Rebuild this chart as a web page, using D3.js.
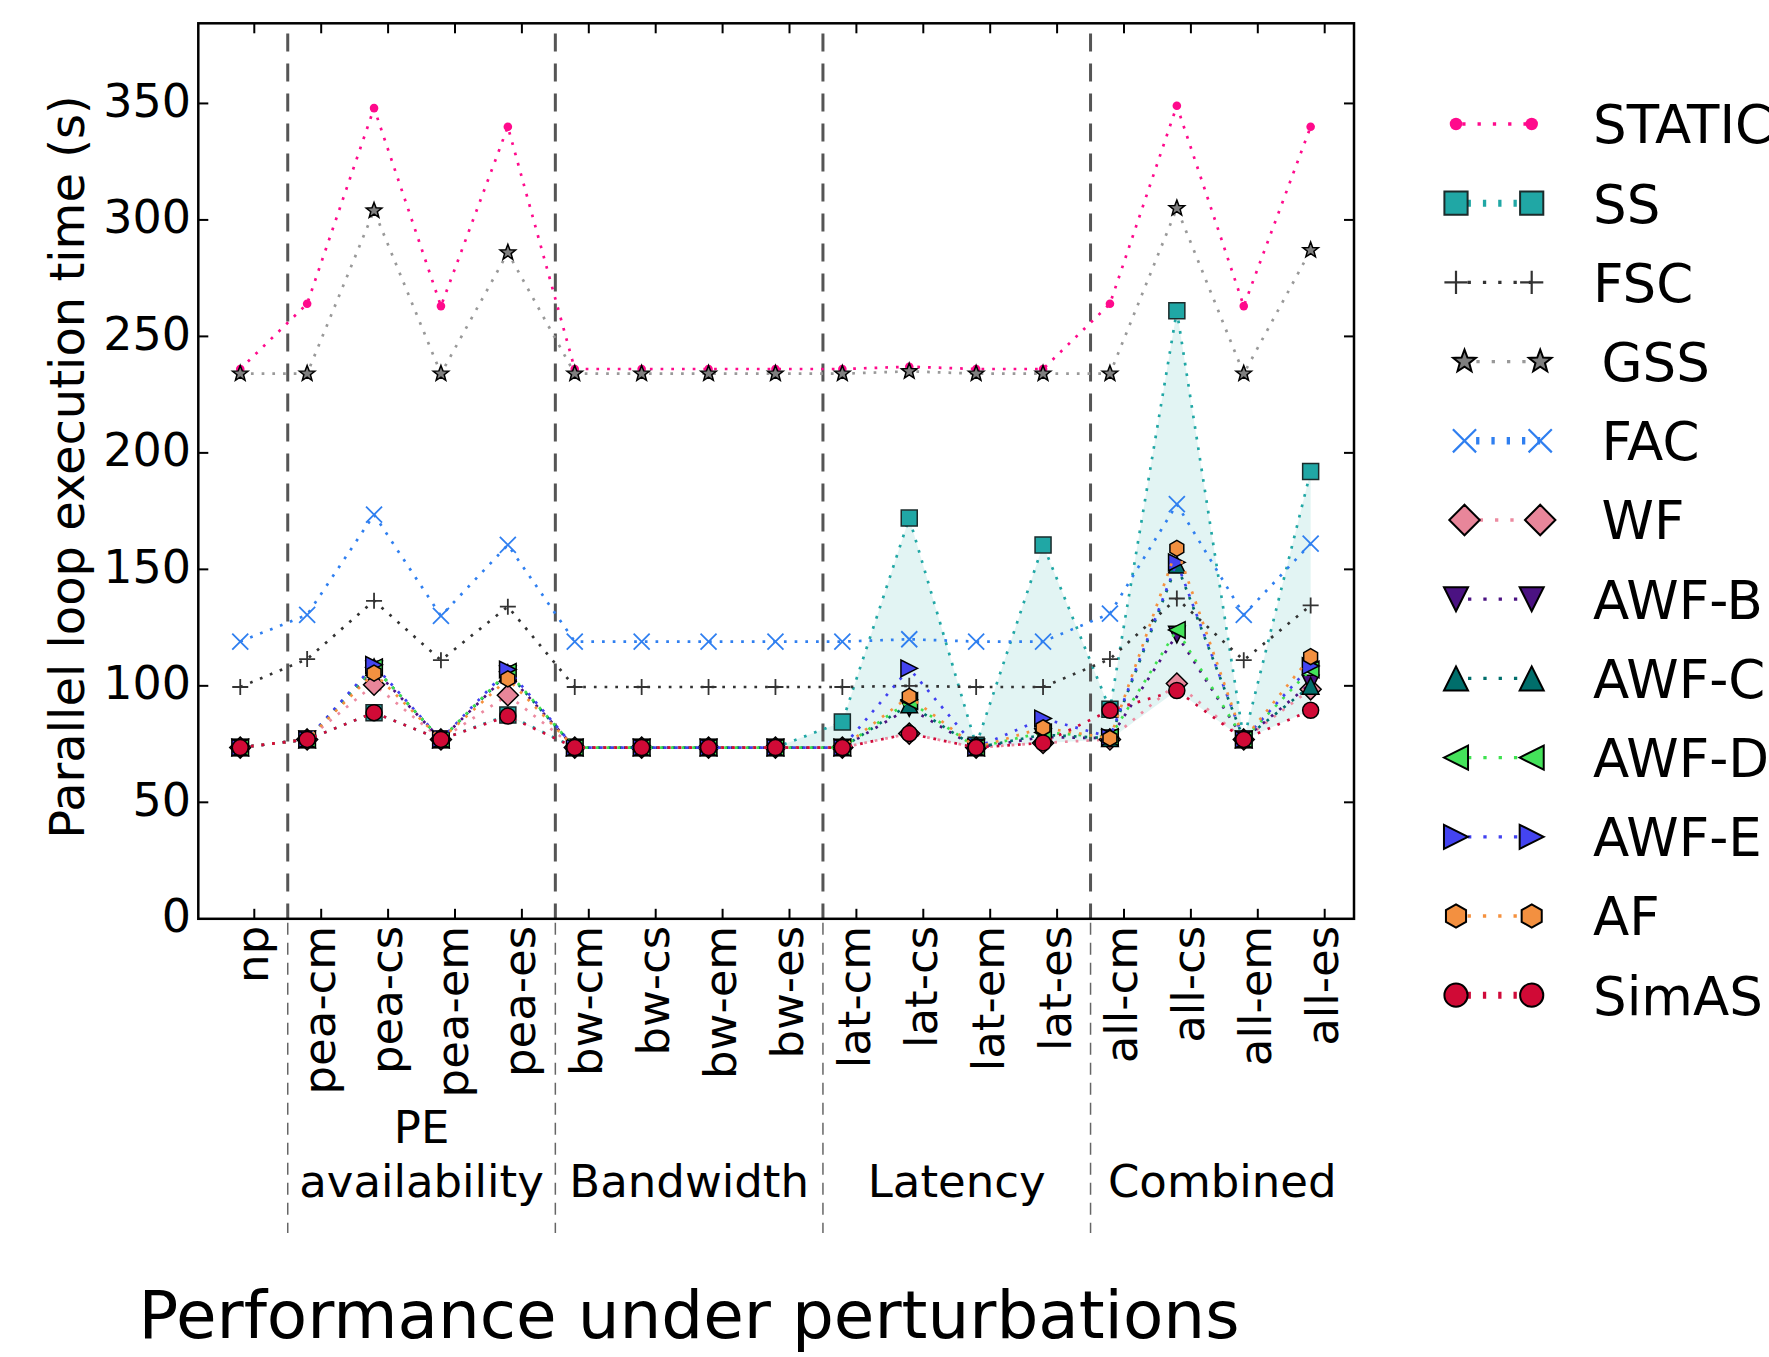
<!DOCTYPE html>
<html>
<head>
<meta charset="utf-8">
<script src="https://cdnjs.cloudflare.com/ajax/libs/d3/7.8.5/d3.min.js"></script>
<style>
  body { margin: 0; background: #fff; }
  text { font-family: "DejaVu Sans", sans-serif; fill: #000; }
</style>
</head>
<body>
<div id="chart"></div>
<script>
// perturbation scenarios
var categories = ['np', 'pea-cm', 'pea-cs', 'pea-em', 'pea-es',
                  'bw-cm', 'bw-cs', 'bw-em', 'bw-es',
                  'lat-cm', 'lat-cs', 'lat-em', 'lat-es',
                  'all-cm', 'all-cs', 'all-em', 'all-es'];

var groupNames = [['PE', 'availability'], ['Bandwidth'], ['Latency'], ['Combined']];
var groupBreaks = [0.5, 4.5, 8.5, 12.5];

var yTicks = [0, 50, 100, 150, 200, 250, 300, 350];

// execution time (s) per technique
var staticTimes = [236, 264, 348, 263, 340, 236, 236, 236, 236, 236, 237, 236, 236, 264, 349, 263, 340];
var ssTimes     = [73.5, 77, 88.5, 77, 87.5, 73.5, 73.5, 73.5, 73.5, 84.5, 172, 74.5, 160.5, 90, 261, 77, 192];
var fscTimes    = [99.5, 111.5, 136.5, 111, 134, 99.5, 99.5, 99.5, 99.5, 99.5, 100, 99.5, 99.5, 111.5, 137.5, 111, 134.5];
var gssTimes    = [234, 234, 304, 234, 286, 234, 234, 234, 234, 234, 235, 234, 234, 234, 305, 234, 287];
var facTimes    = [119, 130.5, 173.5, 130, 160.5, 119, 119, 119, 119, 119, 120, 119, 119, 131, 178, 130.5, 161];
var wfTimes     = [73.5, 77, 100.5, 77, 96, 73.5, 73.5, 73.5, 73.5, 73.5, 79.5, 73.5, 75.5, 77, 101, 77, 98.5];
var awfbTimes   = [73.5, 77, 107, 77, 105, 73.5, 73.5, 73.5, 73.5, 73.5, 90.5, 73.5, 78, 77.5, 122, 77, 101];
var awfcTimes   = [73.5, 77, 108, 77, 105.5, 73.5, 73.5, 73.5, 73.5, 73.5, 92, 73.5, 79, 77.5, 152, 77, 100];
var awfdTimes   = [73.5, 77, 108, 77, 106, 73.5, 73.5, 73.5, 73.5, 73.5, 93.5, 73.5, 80, 78, 124, 77, 107];
var awfeTimes   = [73.5, 77, 109, 77, 107, 73.5, 73.5, 73.5, 73.5, 73.5, 107.5, 73.5, 86, 78, 153, 77, 108.5];
var afTimes     = [73.5, 77, 105.5, 77, 103, 73.5, 73.5, 73.5, 73.5, 73.5, 95.5, 73.5, 82, 77.5, 159, 77, 112.5];
var simasTimes  = [73.5, 77, 88.5, 77, 87, 73.5, 73.5, 73.5, 73.5, 73.5, 79.5, 73.5, 75.5, 89.5, 98, 77, 89.5];

var series = [
    {name: 'STATIC', values: staticTimes, shape: 'circle',   line: '#ff0a8c', fill: '#ff0a8c', edge: 'none', size: 4.3, lw: 3.3},
    {name: 'SS',     values: ssTimes,     shape: 'square',   line: '#20a7a5', fill: '#20a7a5', edge: '#1b2b2b', size: 8, lw: 7},
    {name: 'FSC',    values: fscTimes,    shape: 'plus',     line: '#333333', fill: 'none', edge: '#333333', size: 8, lw: 3.3},
    {name: 'GSS',    values: gssTimes,    shape: 'star',     line: '#999999', fill: '#7f7f7f', edge: '#000', size: 8.2, lw: 3.3, shift: 8.5},
    {name: 'FAC',    values: facTimes,    shape: 'times',    line: '#2f7ff0', fill: 'none', edge: '#2f7ff0', size: 8, lw: 7.5, shift: 8.5},
    {name: 'WF',     values: wfTimes,     shape: 'diamond',  line: '#ec8aa0', fill: '#e8869a', edge: '#000', size: 10.5, lw: 3.3, shift: 8.5},
    {name: 'AWF-B',  values: awfbTimes,   shape: 'triDown',  line: '#4b1282', fill: '#4b1282', edge: '#000', size: 8.3, lw: 3.3},
    {name: 'AWF-C',  values: awfcTimes,   shape: 'triUp',    line: '#006e6b', fill: '#006e6b', edge: '#000', size: 8.3, lw: 3.3},
    {name: 'AWF-D',  values: awfdTimes,   shape: 'triLeft',  line: '#3ee24f', fill: '#44e25a', edge: '#000', size: 8.3, lw: 3.3},
    {name: 'AWF-E',  values: awfeTimes,   shape: 'triRight', line: '#4040f0', fill: '#4444f0', edge: '#000', size: 8.3, lw: 3.3},
    {name: 'AF',     values: afTimes,     shape: 'hexagon',  line: '#f5913e', fill: '#f39040', edge: '#000', size: 8, lw: 3.3},
    {name: 'SimAS',  values: simasTimes,  shape: 'circle',   line: '#d00a3a', fill: '#d00a36', edge: '#000', size: 8, lw: 7}
];

// techniques used for the lower edge of the shaded band
var dynamicNames = ['SS', 'WF', 'AWF-B', 'AWF-C', 'AWF-D', 'AWF-E', 'AF', 'SimAS'];

var width = 1769,
    height = 1357;

var plot = {left: 198.3, right: 1354, top: 23.3, bottom: 918.8};

// points sit a little left of their tick
var markOffset = -0.21;

var x = d3.scaleLinear()
    .domain([-0.837, 16.438])
    .range([plot.left, plot.right]);

var y = d3.scaleLinear()
    .domain([0, 384.4])
    .range([plot.bottom, plot.top]);

function px(i) { return x(i + markOffset); }

function shapePath(shape, s) {
    var p, i, a;
    switch (shape) {
        case 'circle':
            return 'M' + s + ',0A' + s + ',' + s + ' 0 1,1 ' + (-s) + ',0A' + s + ',' + s + ' 0 1,1 ' + s + ',0Z';
        case 'square':
            return 'M' + (-s) + ',' + (-s) + 'H' + s + 'V' + s + 'H' + (-s) + 'Z';
        case 'plus':
            return 'M' + (-s) + ',0H' + s + 'M0,' + (-s) + 'V' + s;
        case 'times':
            return 'M' + (-s) + ',' + (-s) + 'L' + s + ',' + s + 'M' + (-s) + ',' + s + 'L' + s + ',' + (-s);
        case 'diamond':
            return 'M0,' + (-s) + 'L' + s + ',0L0,' + s + 'L' + (-s) + ',0Z';
        case 'triDown':
            return 'M' + (-s) + ',' + (-s) + 'L' + s + ',' + (-s) + 'L0,' + s + 'Z';
        case 'triUp':
            return 'M0,' + (-s) + 'L' + s + ',' + s + 'L' + (-s) + ',' + s + 'Z';
        case 'triLeft':
            return 'M' + (-s) + ',0L' + s + ',' + (-s) + 'L' + s + ',' + s + 'Z';
        case 'triRight':
            return 'M' + s + ',0L' + (-s) + ',' + (-s) + 'L' + (-s) + ',' + s + 'Z';
        case 'hexagon':
            p = [];
            for (i = 0; i < 6; i++) {
                a = -Math.PI / 2 + i * Math.PI / 3;
                p.push((s * Math.cos(a)).toFixed(2) + ',' + (s * Math.sin(a)).toFixed(2));
            }
            return 'M' + p.join('L') + 'Z';
        case 'star':
            p = [];
            for (i = 0; i < 10; i++) {
                a = -Math.PI / 2 + i * Math.PI / 5;
                var r = i % 2 ? s * 0.42 : s;
                p.push((r * Math.cos(a)).toFixed(2) + ',' + (r * Math.sin(a)).toFixed(2));
            }
            return 'M' + p.join('L') + 'Z';
    }
}

var svg = d3.select('#chart')
    .append('svg')
    .attr('width', width)
    .attr('height', height);

// shaded band between SS and the fastest dynamic technique
var dyn = series.filter(function (s) { return dynamicNames.indexOf(s.name) >= 0; });
var band = d3.area()
    .x(function (d, i) { return px(i); })
    .y0(function (d, i) { return y(d3.min(dyn, function (s) { return s.values[i]; })); })
    .y1(function (d) { return y(d); });

svg.append('path')
    .datum(ssTimes)
    .attr('d', band)
    .attr('fill', '#20a7a5')
    .attr('fill-opacity', 0.13);

// group separators
groupBreaks.forEach(function (b) {
    svg.append('line')
        .attr('x1', x(b)).attr('x2', x(b))
        .attr('y1', y(380)).attr('y2', y(0))
        .attr('stroke', '#555')
        .attr('stroke-width', 3)
        .attr('stroke-dasharray', '18 12');
    svg.append('line')
        .attr('x1', x(b)).attr('x2', x(b))
        .attr('y1', plot.bottom + 4).attr('y2', 1233)
        .attr('stroke', '#666')
        .attr('stroke-width', 1.5)
        .attr('stroke-dasharray', '12 8');
});

var line = d3.line()
    .x(function (d, i) { return px(i); })
    .y(function (d) { return y(d); });

series.forEach(function (s) {
    var g = svg.append('g').attr('class', 'series');
    g.append('path')
        .datum(s.values)
        .attr('d', line)
        .attr('fill', 'none')
        .attr('stroke', s.line)
        .attr('stroke-width', 2.7)
        .attr('stroke-dasharray', '2.7 8');
    g.selectAll('path.mark')
        .data(s.values)
        .enter().append('path')
        .attr('class', 'mark')
        .attr('transform', function (d, i) { return 'translate(' + px(i) + ',' + y(d) + ')'; })
        .attr('d', shapePath(s.shape, s.size))
        .attr('fill', s.fill)
        .attr('stroke', s.edge)
        .attr('stroke-width', (s.shape === 'plus' || s.shape === 'times') ? 1.8 : 1.5);
});

// frame
svg.append('rect')
    .attr('x', plot.left).attr('y', plot.top)
    .attr('width', plot.right - plot.left)
    .attr('height', plot.bottom - plot.top)
    .attr('fill', 'none')
    .attr('stroke', '#000')
    .attr('stroke-width', 2.5);

// y ticks, both sides, inward
yTicks.forEach(function (t) {
    if (t > 0) {
        svg.append('line')
            .attr('x1', plot.left).attr('x2', plot.left + 10)
            .attr('y1', y(t)).attr('y2', y(t))
            .attr('stroke', '#000').attr('stroke-width', 2);
        svg.append('line')
            .attr('x1', plot.right - 10).attr('x2', plot.right)
            .attr('y1', y(t)).attr('y2', y(t))
            .attr('stroke', '#000').attr('stroke-width', 2);
    }
    svg.append('text')
        .attr('x', 191)
        .attr('y', y(t) + 13.3)
        .attr('text-anchor', 'end')
        .style('font-size', '46px')
        .text(t);
});

// x ticks and rotated labels
categories.forEach(function (c, i) {
    svg.append('line')
        .attr('x1', x(i)).attr('x2', x(i))
        .attr('y1', plot.bottom).attr('y2', plot.bottom - 10)
        .attr('stroke', '#000').attr('stroke-width', 2);
    svg.append('line')
        .attr('x1', x(i)).attr('x2', x(i))
        .attr('y1', plot.top).attr('y2', plot.top + 10)
        .attr('stroke', '#000').attr('stroke-width', 2);
    svg.append('text')
        .attr('transform', 'translate(' + (x(i) + 13.5) + ',' + (plot.bottom + 7) + ') rotate(-90)')
        .attr('text-anchor', 'end')
        .style('font-size', '45px')
        .text(c);
});

// group names under the tick labels
var bounds = groupBreaks.map(x).concat([plot.right]);
groupNames.forEach(function (lines, k) {
    var cx = (bounds[k] + bounds[k + 1]) / 2;
    lines.forEach(function (txt, j) {
        svg.append('text')
            .attr('x', cx)
            .attr('y', 1197 - (lines.length - 1 - j) * 54)
            .attr('text-anchor', 'middle')
            .style('font-size', '45px')
            .text(txt);
    });
});

// axis titles
svg.append('text')
    .attr('transform', 'translate(83.5,467) rotate(-90)')
    .attr('text-anchor', 'middle')
    .style('font-size', '48px')
    .text('Parallel loop execution time (s)');

svg.append('text')
    .attr('x', 689)
    .attr('y', 1338)
    .attr('text-anchor', 'middle')
    .style('font-size', '66px')
    .text('Performance under perturbations');

// legend (runs past the right edge, as in the original figure)
var legend = svg.append('g').attr('class', 'legend');
series.forEach(function (s, k) {
    var ly = 124 + k * 79.2,
        sh = s.shift || 0,
        lx1 = 1456 + sh,
        lx2 = 1531.7 + sh;
    legend.append('line')
        .attr('x1', lx1 + s.size * 1.45).attr('x2', lx2)
        .attr('y1', ly).attr('y2', ly)
        .attr('stroke', s.line)
        .attr('stroke-width', s.lw)
        .attr('stroke-dasharray', '3.3 12');
    [lx1, lx2].forEach(function (mx) {
        legend.append('path')
            .attr('transform', 'translate(' + mx + ',' + ly + ')')
            .attr('d', shapePath(s.shape, s.size * 1.45))
            .attr('fill', s.fill)
            .attr('stroke', s.edge)
            .attr('stroke-width', (s.shape === 'plus' || s.shape === 'times') ? 2.2 : 2);
    });
    legend.append('text')
        .attr('x', 1593 + sh)
        .attr('y', ly + 19.3)
        .style('font-size', '53px')
        .text(s.name);
});
</script>
</body>
</html>
